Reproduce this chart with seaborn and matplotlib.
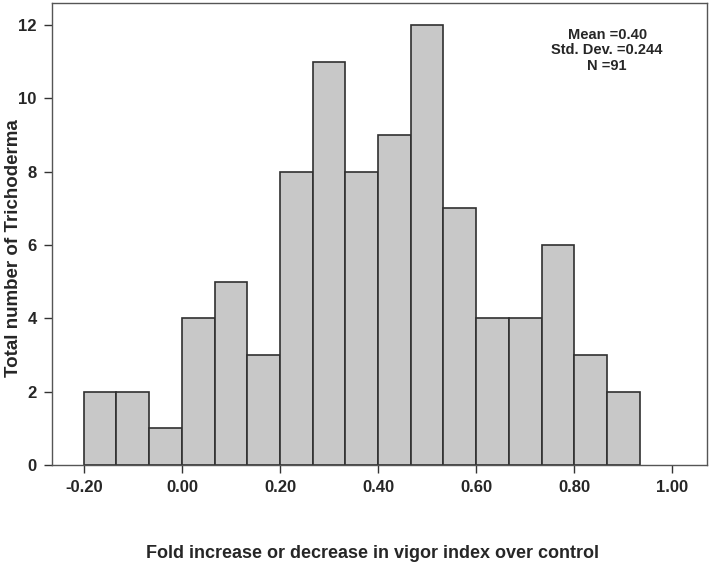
import numpy as np
import pandas as pd
import matplotlib
matplotlib.use("Agg")
import matplotlib.pyplot as plt
import seaborn as sns

# histogram bins (width 1/15) and counts
bin_start = -0.20
bin_width = 1 / 15
counts = [2, 2, 1, 4, 5, 3, 8, 11, 8, 9, 12, 7, 4, 4, 6, 3, 2]
x_ticks = [-0.20, 0.00, 0.20, 0.40, 0.60, 0.80, 1.00]
y_ticks = [0, 2, 4, 6, 8, 10, 12]
stats_text = "Mean =0.40\nStd. Dev. =0.244\nN =91"

edges = bin_start + bin_width * np.arange(len(counts) + 1)
df = pd.DataFrame({"centre": (edges[:-1] + edges[1:]) / 2, "n": counts})

sns.set_style("white")
plt.rcParams["font.family"] = ["Liberation Sans", "DejaVu Sans"]
plt.rcParams["font.weight"] = "bold"

fig = plt.figure(figsize=(7.11, 5.73), dpi=100)
ax = fig.add_axes([0.073, 0.1885, 0.921, 0.8063])

sns.histplot(data=df, x="centre", weights="n", bins=list(edges), ax=ax,
             color="#c8c8c8", edgecolor="#303030", linewidth=1.2, alpha=1)

ax.set_xlim(-0.265, 1.07)
ax.set_ylim(0, 12.6)
ax.set_xticks(x_ticks)
ax.set_xticklabels([f"{v:.2f}" for v in x_ticks])
ax.set_yticks(y_ticks)
ax.tick_params(axis="both", direction="out", length=6, width=1, color="#333333",
               labelsize=12, bottom=True, left=True, pad=5)
for s in ax.spines.values():
    s.set_color("#555555")
    s.set_linewidth(1)

ax.set_xlabel("Fold increase or decrease in vigor index over control",
              fontsize=13, fontweight="bold")
ax.xaxis.set_label_coords(0.49, -0.173)
ax.set_ylabel("Total number of Trichoderma", fontsize=13.5, fontweight="bold")
ax.yaxis.set_label_coords(-0.045, 0.47)
ax.text(0.848, 0.945, stats_text, transform=ax.transAxes, ha="center", va="top",
        fontsize=10.5, fontweight="bold", linespacing=1.1)

fig.savefig("out.png", dpi=100)
